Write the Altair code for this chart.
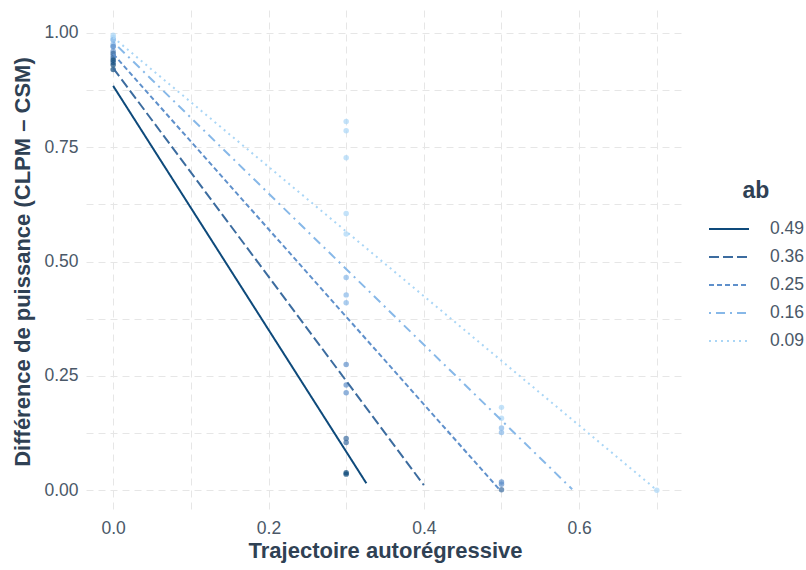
import altair as alt
import pandas as pd

# ---- data ----
groups = ["0.49", "0.36", "0.25", "0.16", "0.09"]
colors = ["#0e4a7b", "#3c6c9f", "#5f90cb", "#87b8e8", "#aad6f6"]
dashes = [[1, 0], [10, 4], [5, 3], [2, 5, 9, 5], [2, 4]]

pt_group = (["0.09"] * 3 + ["0.16"] * 3 + ["0.25"] * 3 + ["0.36"] * 3 + ["0.49"] * 3
            + ["0.09"] * 5 + ["0.16"] * 3 + ["0.25"] * 3 + ["0.36"] * 2 + ["0.49"] * 2
            + ["0.09"] * 2 + ["0.16"] * 2 + ["0.25"] * 2 + ["0.36"] * 1
            + ["0.09"])
pt_x = ([0.0] * 15 + [0.3] * 15 + [0.5] * 7 + [0.7])
pt_y = ([0.995, 0.99, 0.985, 0.985, 0.975, 0.97, 0.97, 0.96, 0.95,
         0.955, 0.945, 0.935, 0.94, 0.93, 0.92,
         0.806, 0.786, 0.727, 0.605, 0.56, 0.465, 0.427, 0.41,
         0.275, 0.23, 0.213, 0.113, 0.104, 0.038, 0.035,
         0.181, 0.157, 0.136, 0.126, 0.018, 0.013, 0.001,
         0.0])

line_group = ["0.49", "0.49", "0.36", "0.36", "0.25", "0.25", "0.16", "0.16", "0.09", "0.09"]
line_x = [0.0, 0.326, 0.0, 0.40, 0.0, 0.498, 0.0, 0.591, 0.0, 0.70]
line_y = [0.884, 0.015, 0.923, 0.011, 0.954, 0.0, 0.98, 0.002, 0.99, 0.0]

x_grid = [0.0, 0.1, 0.2, 0.3, 0.4, 0.5, 0.6, 0.7]
y_grid = [0.0, 0.125, 0.25, 0.375, 0.5, 0.625, 0.75, 0.875, 1.0]

pts = pd.DataFrame({"ab": pt_group, "x": pt_x, "y": pt_y})
lines = pd.DataFrame({"ab": line_group, "x": line_x, "y": line_y})

FONT = "Liberation Sans"
TITLE_C = "#2f4154"
LABEL_C = "#4a5868"

xs = alt.Scale(domain=[-0.035, 0.735], nice=False, zero=False)
ys = alt.Scale(domain=[-0.05, 1.05], nice=False, zero=False)

x_axis = alt.Axis(values=x_grid, title="Trajectoire autorégressive",
                  labelExpr="round(datum.value*10) % 2 == 0 ? format(datum.value, '.1f') : ''")
y_axis = alt.Axis(values=y_grid, title="Différence de puissance (CLPM – CSM)",
                  labelExpr="round(datum.value*8) % 2 == 0 ? format(datum.value, '.2f') : ''")

legend = alt.Legend(title="ab")
color = alt.Color("ab:N", scale=alt.Scale(domain=groups, range=colors), legend=legend)
dash = alt.StrokeDash("ab:N", scale=alt.Scale(domain=groups, range=dashes), legend=legend)

points = alt.Chart(pts).mark_circle(size=30, opacity=0.7).encode(
    x=alt.X("x:Q", scale=xs, axis=x_axis),
    y=alt.Y("y:Q", scale=ys, axis=y_axis),
    color=color,
)

fits = alt.Chart(lines).mark_line(strokeWidth=2).encode(
    x=alt.X("x:Q", scale=xs),
    y=alt.Y("y:Q", scale=ys),
    color=color,
    strokeDash=dash,
    detail="ab:N",
)

chart = (points + fits).properties(
    width=598, height=503,
    autosize=alt.AutoSizeParams(type="none"),
    padding={"left": 86, "top": 10, "right": 122, "bottom": 57},
).configure_view(stroke=None).configure_axis(
    domain=False, ticks=False, grid=True, gridColor="#e6e6e6", gridDash=[7, 5],
    gridWidth=1, labelFont=FONT, labelFontSize=17.5, labelColor=LABEL_C,
    titleFont=FONT, titleFontSize=22, titleFontWeight="bold",
    titleColor=TITLE_C,
).configure_axisY(labelPadding=8, titlePadding=9).configure_axisX(
    labelPadding=6, titlePadding=4
).configure_legend(
    orient="none", legendX=622, legendY=170, symbolType="stroke", symbolSize=1600,
    symbolStrokeWidth=2, symbolOpacity=1, clipHeight=20, rowPadding=8, labelOffset=20,
    labelFont=FONT, labelFontSize=17.5, labelColor=LABEL_C, titleFont=FONT,
    titleFontSize=23, titleFontWeight="bold", titleColor=TITLE_C, titlePadding=16,
    titleAnchor="middle", titleAlign="center",
)

chart.save("out.html", embed_options={"renderer": "svg", "actions": False})
